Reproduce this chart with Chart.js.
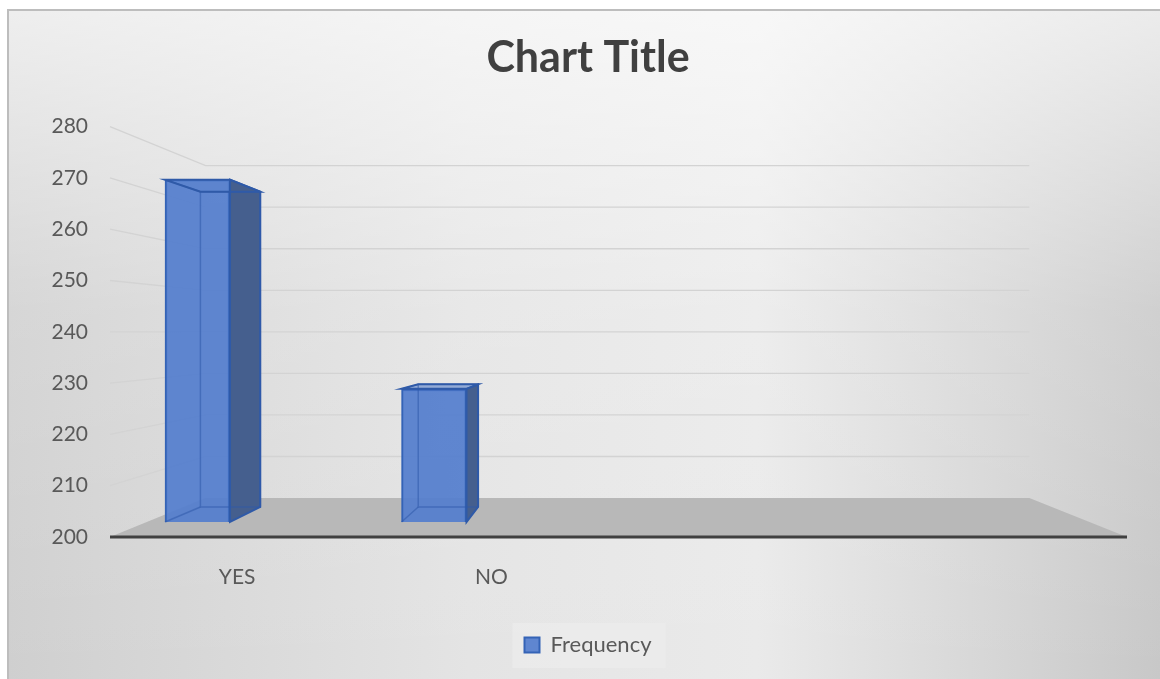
<!DOCTYPE html>
<html>
<head>
<meta charset="utf-8">
<title>Chart Title</title>
<script src="https://cdn.jsdelivr.net/npm/chart.js@4.4.1/dist/chart.umd.min.js"></script>
<style>
  html, body { margin: 0; padding: 0; background: #fff; }
</style>
</head>
<body>
<canvas id="grafico" width="1160" height="679"></canvas>
<script>
// Datos
const categorias = ['YES', 'NO', '', ''];
const frecuencias = [272, 228];
const ticksY = [200, 210, 220, 230, 240, 250, 260, 270, 280];

// Perspectiva (punto de fuga y profundidades)
const VP = { x: 613, y: 332 };
const FONDO = 0.81;       // pared trasera / suelo
const PROF_BARRA = 0.921; // cara trasera de cada barra

function proyectar(x, y, k) {
  return [VP.x + k * (x - VP.x), VP.y + k * (y - VP.y)];
}

function poligono(ctx, pts) {
  ctx.beginPath();
  ctx.moveTo(pts[0][0], pts[0][1]);
  for (let i = 1; i < pts.length; i++) ctx.lineTo(pts[i][0], pts[i][1]);
  ctx.closePath();
}

const efecto3d = {
  id: 'efecto3d',
  beforeDraw(chart) {
    const { ctx, width, height } = chart;
    ctx.save();
    ctx.fillStyle = '#fff';
    ctx.fillRect(0, 0, width, height);

    // fondo degradado
    const g = ctx.createLinearGradient(8, 0, width, 0);
    g.addColorStop(0, '#cfcfcf');
    g.addColorStop(0.4, '#e4e4e4');
    g.addColorStop(0.65, '#eaeaea');
    g.addColorStop(1, '#c8c8c8');
    ctx.fillStyle = g;
    ctx.fillRect(8, 10, width - 8, height - 10);
    const v = ctx.createLinearGradient(0, 10, 0, height);
    v.addColorStop(0, 'rgba(255,255,255,0.65)');
    v.addColorStop(0.45, 'rgba(255,255,255,0.15)');
    v.addColorStop(1, 'rgba(255,255,255,0)');
    ctx.fillStyle = v;
    ctx.fillRect(8, 10, width - 8, height - 10);

    ctx.strokeStyle = '#bdbdbd';
    ctx.lineWidth = 2;
    ctx.beginPath();
    ctx.moveTo(8, height);
    ctx.lineTo(8, 10);
    ctx.lineTo(width, 10);
    ctx.stroke();

    // caja de la leyenda
    const hb = chart.legend && chart.legend.legendHitBoxes[0];
    if (hb) {
      ctx.fillStyle = 'rgba(235,235,235,0.85)';
      ctx.fillRect(hb.left - 12, hb.top - 11, hb.width + 26, hb.height + 23);
    }
    ctx.restore();
  },
  beforeDatasetsDraw(chart) {
    const { ctx, chartArea: a } = chart;
    const y = chart.scales.y;
    ctx.save();

    const izq = proyectar(a.left, 0, FONDO)[0];
    const der = proyectar(a.right, 0, FONDO)[0];

    // lineas de division (pared izquierda + pared trasera)
    ctx.strokeStyle = '#d3d3d3';
    ctx.lineWidth = 1.3;
    ticksY.slice(1).forEach(val => {
      const yf = y.getPixelForValue(val);
      const yb = VP.y + FONDO * (yf - VP.y);
      ctx.beginPath();
      ctx.moveTo(a.left, yf);
      ctx.lineTo(izq, yb);
      ctx.lineTo(der, yb);
      ctx.stroke();
    });

    // suelo
    poligono(ctx, [[a.left, a.bottom], [a.right, a.bottom],
      proyectar(a.right, a.bottom, FONDO), proyectar(a.left, a.bottom, FONDO)]);
    ctx.fillStyle = '#b8b8b8';
    ctx.fill();

    ctx.strokeStyle = '#404040';
    ctx.lineWidth = 3;
    ctx.beginPath();
    ctx.moveTo(a.left, a.bottom);
    ctx.lineTo(a.right, a.bottom);
    ctx.stroke();
    ctx.restore();
  },
  afterDatasetsDraw(chart) {
    const ctx = chart.ctx;
    const meta = chart.getDatasetMeta(0);
    ctx.save();
    meta.data.forEach(bar => {
      const p = bar.getProps(['x', 'y', 'base', 'width'], true);
      const L = p.x - p.width / 2, R = p.x + p.width / 2;
      const fTL = [L, p.y], fTR = [R, p.y], fBR = [R, p.base], fBL = [L, p.base];
      const bTL = proyectar(L, p.y, PROF_BARRA), bTR = proyectar(R, p.y, PROF_BARRA);
      const bBR = proyectar(R, p.base, PROF_BARRA), bBL = proyectar(L, p.base, PROF_BARRA);

      // cara superior
      poligono(ctx, [fTL, fTR, bTR, bTL]);
      ctx.fillStyle = 'rgba(92,131,205,0.6)';
      ctx.fill();

      // cara lateral
      poligono(ctx, [fTR, bTR, bBR, fBR]);
      ctx.fillStyle = '#455f8e';
      ctx.fill();
      ctx.strokeStyle = '#2f5aa8';
      ctx.lineWidth = 2;
      ctx.stroke();

      // aristas traseras vistas a traves
      ctx.strokeStyle = 'rgba(47,90,170,0.55)';
      ctx.lineWidth = 1.5;
      poligono(ctx, [bTL, bTR, bBR, bBL]);
      ctx.stroke();
      ctx.beginPath();
      ctx.moveTo(fTL[0], fTL[1]); ctx.lineTo(bTL[0], bTL[1]);
      ctx.moveTo(fBL[0], fBL[1]); ctx.lineTo(bBL[0], bBL[1]);
      ctx.stroke();
      ctx.strokeStyle = '#2f5aa8';
      ctx.lineWidth = 2;
      poligono(ctx, [fTL, fTR, bTR, bTL]);
      ctx.stroke();
    });
    ctx.restore();
  }
};

Chart.defaults.font.family = 'Lato';

new Chart(document.getElementById('grafico'), {
  type: 'bar',
  data: {
    labels: categorias,
    datasets: [{
      label: 'Frequency',
      data: frecuencias.map((f, i) => ({ x: i, y: f })),
      xAxisID: 'xb',
      yAxisID: 'yb',
      base: 200,
      barThickness: 65,
      backgroundColor: 'rgba(84,126,206,0.93)',
      borderColor: '#3463b6',
      borderWidth: 2
    }]
  },
  options: {
    responsive: false,
    animation: false,
    layout: { padding: { left: 49, right: 33, top: 0, bottom: 13 } },
    plugins: {
      title: {
        display: true,
        text: 'Chart Title',
        color: '#404040',
        font: { family: 'Lato', size: 43, weight: 'bold' },
        padding: { top: 32, bottom: 43 }
      },
      legend: {
        position: 'bottom',
        labels: {
          color: '#595959',
          font: { family: 'Lato', size: 22 },
          boxWidth: 15,
          boxHeight: 15,
          padding: 10
        }
      },
      tooltip: { enabled: false }
    },
    scales: {
      x: {
        type: 'category',
        position: 'bottom',
        offset: true,
        grid: { display: false, drawTicks: false },
        border: { display: false },
        ticks: { color: '#595959', font: { size: 21 }, padding: 28 },
        afterFit: s => { s.height = 87; }
      },
      y: {
        type: 'linear',
        position: 'left',
        min: 200,
        max: 280,
        grid: { display: false, drawTicks: false },
        border: { display: false },
        ticks: { color: '#595959', font: { size: 21 }, padding: 22 },
        afterBuildTicks: s => { s.ticks = ticksY.map(v => ({ value: v })); },
        afterFit: s => { s.width = 61; }
      },
      // ejes ocultos para el plano frontal de las barras (mas al fondo)
      xb: { type: 'linear', display: false, position: 'bottom', offset: false, min: -0.37, max: 3.93 },
      yb: { type: 'linear', display: false, position: 'left', min: 196.84, max: 283.16 }
    }
  },
  plugins: [efecto3d]
});
</script>
</body>
</html>
